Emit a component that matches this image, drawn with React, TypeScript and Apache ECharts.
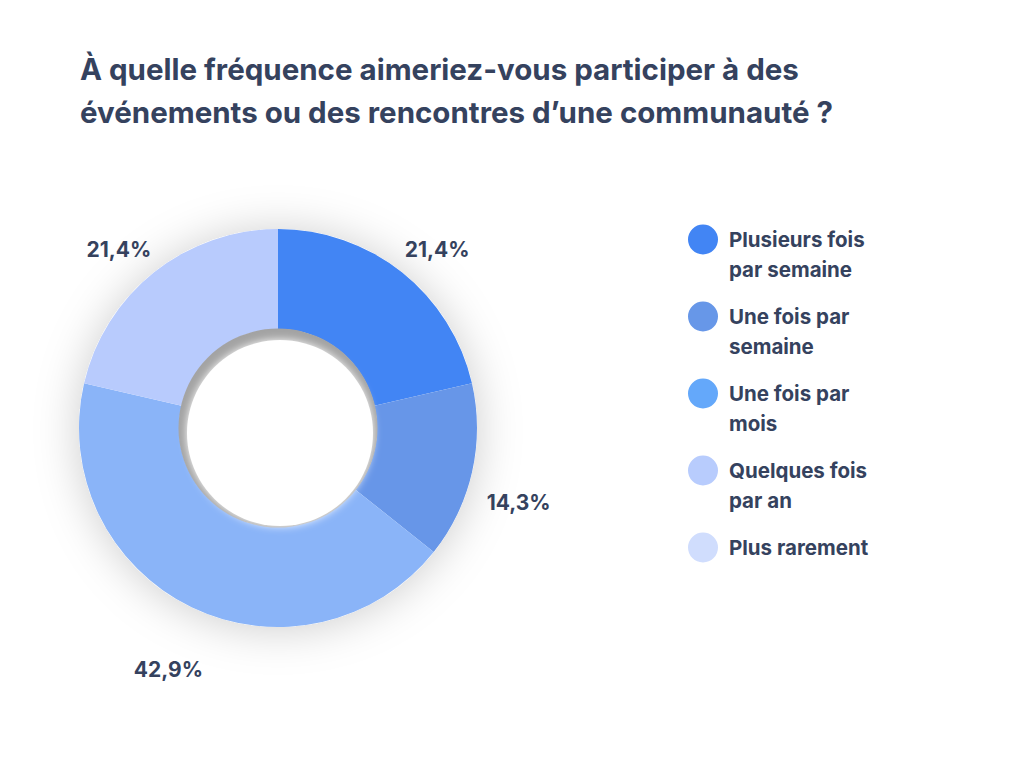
import React, { useEffect, useRef } from 'react';
import * as echarts from 'echarts';

const TITLE_LINES = [
  'À quelle fréquence aimeriez-vous participer à des',
  'événements ou des rencontres d’une communauté ?',
];
const categories = [
  'Plusieurs fois par semaine',
  'Une fois par semaine',
  'Une fois par mois',
  'Quelques fois par an',
  'Plus rarement',
];
const values = [21.4, 14.3, 42.9, 21.4, 0];
const sliceColors = ['#4285F4', '#6796E8', '#8AB4F8', '#B8CBFD', '#D0DDFD'];
const legendColors = ['#4285F4', '#6797E8', '#64A8FA', '#B8CCFD', '#D0DDFD'];

const CENTER = [278, 428];
const R_IN = 99;
const R_OUT = 199;
const TEXT = '#35425E';
const FONT = 'Inter, Roboto, "Noto Sans", sans-serif';

function wrap(name: string, max = 14): string {
  const words = name.split(' ');
  const lines: string[] = [];
  let cur = '';
  for (const w of words) {
    const t = cur ? cur + ' ' + w : w;
    if (t.length > max && cur) {
      lines.push(cur);
      cur = w;
    } else cur = t;
  }
  lines.push(cur);
  while (lines.length < 2) lines.push(' ');
  return lines.join('\n');
}

function fmtPct(v: number): string {
  return v.toFixed(1).replace('.', ',') + '%';
}

export default function App() {
  const ref = useRef<HTMLDivElement>(null);
  useEffect(() => {
    if (!ref.current) return;
    const chart = echarts.init(ref.current, undefined, { renderer: 'svg' });
    const total = values.reduce((a, b) => a + b, 0);
    const midAngles: number[] = [];
    let acc = 0;
    values.forEach((v) => {
      midAngles.push(Math.PI / 2 - ((acc + v / 2) / total) * Math.PI * 2);
      acc += v;
    });

    const option: any = {
      animation: false,
      backgroundColor: '#ffffff',
      title: {
        text: TITLE_LINES.join('\n'),
        left: 75,
        top: 42,
        textStyle: {
          fontFamily: FONT,
          fontSize: 29.5,
          fontWeight: 'bold',
          color: TEXT,
          lineHeight: 43,
        },
      },
      legend: {
        orient: 'vertical',
        left: 683,
        top: 218,
        itemWidth: 30,
        itemHeight: 60,
        itemGap: 14,
        icon: 'path://M0,15A15,15,0,1,1,30,15A15,15,0,1,1,0,15ZM15,59.9L15,60',
        selectedMode: false,
        formatter: (name: string) => wrap(name),
        textStyle: {
          fontFamily: FONT,
          fontSize: 20.5,
          fontWeight: 'bold',
          color: TEXT,
          lineHeight: 30,
          padding: [3, 0, 0, 6],
        },
        data: categories.map((name, i) => ({
          name,
          itemStyle: { color: legendColors[i] },
        })),
      },
      series: [
        {
          type: 'pie',
          name: 'shadow',
          silent: true,
          center: CENTER,
          radius: [0, R_OUT],
          label: { show: false },
          labelLine: { show: false },
          data: [
            {
              value: 1,
              name: '__bg',
              itemStyle: {
                color: '#ffffff',
                shadowBlur: 45,
                shadowColor: 'rgba(0,0,0,0.2)',
                shadowOffsetY: 2,
              },
            },
          ],
        },
        {
          type: 'pie',
          name: 'Fréquence',
          center: CENTER,
          radius: [R_IN, R_OUT],
          startAngle: 90,
          clockwise: true,
          silent: true,
          avoidLabelOverlap: false,
          data: categories.map((name, i) => ({
            name,
            value: values[i],
            itemStyle: { color: sliceColors[i] },
            label: { show: values[i] > 0 },
          })),
          label: {
            show: true,
            position: 'outside',
            formatter: (p: any) => fmtPct(p.value),
            fontFamily: FONT,
            fontSize: 21,
            fontWeight: 'bold',
            color: TEXT,
          },
          labelLine: { show: false },
          labelLayout: (params: any) => {
            const a = midAngles[params.dataIndex];
            const ux = Math.cos(a);
            const uy = -Math.sin(a);
            const w = params.labelRect.width;
            const h = 22;
            const vs = 1 / Math.max(Math.abs(ux), Math.abs(uy));
            const off = 15;
            const x = CENTER[0] + ux * (R_OUT + off) + (ux * vs * w) / 2;
            const y =
              CENTER[1] + uy * (R_OUT + off) + (uy * vs * h) / 2 + (uy > 0 ? 20 + 20 * uy : 0);
            return { x, y, align: 'center', verticalAlign: 'middle' };
          },
        },
        {
          type: 'pie',
          name: 'holeShade',
          silent: true,
          center: CENTER,
          radius: [0, R_IN + 0.5],
          label: { show: false },
          labelLine: { show: false },
          data: [{ value: 1, name: '__shade', itemStyle: { color: '#A3A3A3' } }],
        },
        {
          type: 'pie',
          name: 'hole',
          silent: true,
          center: [CENTER[0] + 2, CENTER[1] + 5],
          radius: [0, R_IN - 6],
          label: { show: false },
          labelLine: { show: false },
          data: [
            {
              value: 1,
              name: '__hole',
              itemStyle: { color: '#ffffff', shadowBlur: 8, shadowColor: '#ffffff' },
            },
          ],
        },
      ],
    };
    chart.setOption(option);
    return () => chart.dispose();
  }, []);
  return (
    <div
      ref={ref}
      style={{ position: 'absolute', left: 0, top: 0, width: 1024, height: 768 }}
    />
  );
}
